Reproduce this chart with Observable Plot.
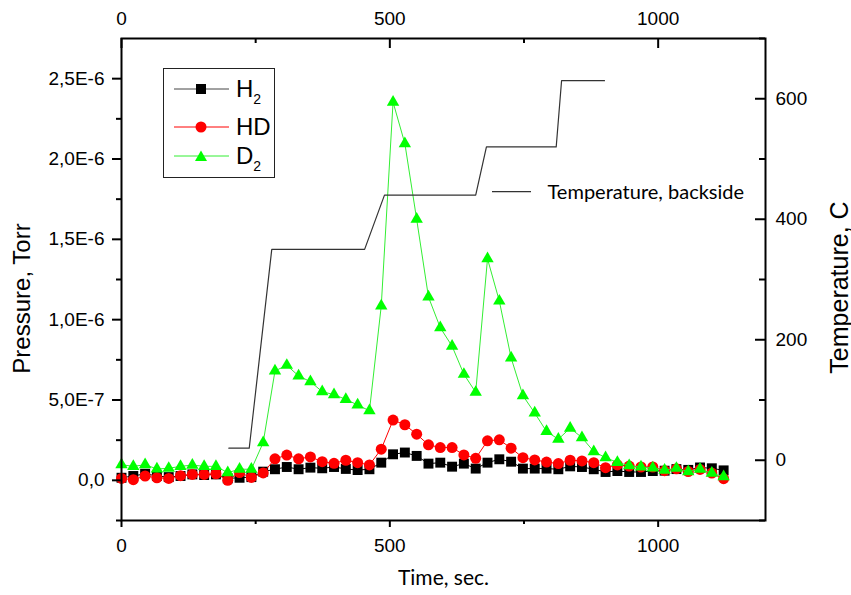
<!DOCTYPE html>
<html><head><meta charset="utf-8">
<script src="https://cdn.jsdelivr.net/npm/d3@7"></script>
<script src="https://cdn.jsdelivr.net/npm/@observablehq/plot@0.6"></script>
<style>
body{margin:0;background:#fff;}
#wrap{position:relative;width:851px;height:595px;overflow:hidden;background:#fff;}
#wrap svg{position:absolute;left:0;top:0;font-family:"Liberation Sans",Arial,sans-serif !important;}
#legend{position:absolute;left:163px;top:68px;width:110px;height:108px;border:1px solid #222;background:#fff;font-family:"Liberation Sans",Arial,sans-serif;color:#000;}
#legend .row{position:absolute;left:0;height:30px;width:110px;}
#legend svg{position:absolute;left:0;top:0;}
#legend .lab{position:absolute;left:72px;top:3px;font-size:24px;line-height:24px;}
#legend sub{font-size:14px;vertical-align:-7px;line-height:0;}
</style></head><body><div id="wrap"></div>
<script>
// ---- data ----
const time = [0,22,44,66,88,110,132,154,176,198,220,242,264,286,308,330,352,374,396,418,440,462,484,506,528,550,572,594,616,638,660,682,704,726,748,770,792,814,836,858,880,902,924,946,968,990,1012,1034,1056,1078,1100,1122];
// pressures in units of 1e-7 Torr
const h2 = [0.16,0.27,0.41,0.27,0.20,0.27,0.37,0.33,0.37,0.12,0.16,0.20,0.54,0.69,0.83,0.69,0.79,0.75,0.83,0.71,0.64,0.69,1.10,1.62,1.73,1.52,1.04,1.10,0.85,1.04,0.73,1.10,1.31,1.16,0.73,0.73,0.73,0.69,0.87,0.83,0.69,0.52,0.58,0.52,0.52,0.58,0.60,0.70,0.65,0.80,0.75,0.62];
const hd = [0.12,0.04,0.27,0.16,0.12,0.29,0.37,0.37,0.41,0.00,0.48,0.18,0.46,1.34,1.57,1.34,1.46,1.16,1.06,1.25,1.10,0.96,1.94,3.75,3.46,2.87,2.21,2.04,2.04,1.58,1.37,2.46,2.52,2.00,1.41,1.27,1.14,1.04,1.25,1.21,1.10,0.79,0.96,0.89,0.83,0.83,0.60,0.72,0.55,0.68,0.45,0.10];
const d2 = [0.97,0.87,0.97,0.71,0.75,0.87,0.95,0.87,0.87,0.48,0.69,0.69,2.35,6.81,7.16,6.50,6.14,5.52,5.33,5.04,4.69,4.33,10.85,23.54,20.96,16.25,11.41,9.50,8.35,6.60,5.48,13.79,11.16,7.62,5.27,4.19,3.04,2.56,3.25,2.66,1.79,1.41,1.12,0.91,0.83,0.77,0.64,0.75,0.54,0.69,0.44,0.23];
const tempTime = [200,238,280,453,490,660,680,810,820,900];
const tempValue = [20,20,350,350,440,440,520,520,630,630];

const xMajor = [0,500,1000];
const xMinor = [250,750];
const pMajor = [0,5e-7,1e-6,1.5e-6,2e-6,2.5e-6];
const pMajorLabels = ["0,0","5,0E-7","1,0E-6","1,5E-6","2,0E-6","2,5E-6"];
const pMinor = [-2.5e-7,2.5e-7,7.5e-7,1.25e-6,1.75e-6,2.25e-6];
const tMajor = [0,200,400,600];
const tMinor = [-100,100,300,500,700];
const xTitle = "Time, sec.";
const pTitle = "Pressure, Torr";
const tTitle = "Temperature, C";
const annoText = "Temperature, backside";
const annoLevel = 446;

// ---- build tables ----
const mk = (arr) => time.map((t,i)=>({t, p: arr[i]*1e-7}));
const H2 = mk(h2), HD = mk(hd), D2 = mk(d2);
const TEMP = tempTime.map((t,i)=>({t, T: tempValue[i]}));
const pLabelMap = new Map(pMajor.map((v,i)=>[v,pMajorLabels[i]]));

const W=851,H=595,mL=121,mR=86,mT=38,mB=75;
const FW = W-mL-mR, FH = H-mT-mB;
const baseStyle = {background:"transparent", fontFamily:"'Liberation Sans', Arial, sans-serif", fontSize:"19px", color:"#000", overflow:"visible"};

const pressurePlot = Plot.plot({
  width:W, height:H, marginLeft:mL, marginRight:mR, marginTop:mT, marginBottom:mB,
  style: baseStyle,
  x:{domain:[0,1200]},
  y:{domain:[-2.5e-7,2.75e-6]},
  marks:[
    Plot.line(H2,{x:"t",y:"p",stroke:"#000",strokeWidth:1}),
    Plot.dot(H2,{x:"t",y:"p",symbol:"square",r:5.6,fill:"#000",stroke:"none"}),
    Plot.line(HD,{x:"t",y:"p",stroke:"#ff0000",strokeWidth:1}),
    Plot.dot(HD,{x:"t",y:"p",symbol:"circle",r:5.5,fill:"#ff0000",stroke:"none"}),
    Plot.line(D2,{x:"t",y:"p",stroke:"#33ee33",strokeWidth:1}),
    Plot.dot(D2,{x:"t",y:"p",symbol:"triangle",r:4.6,fill:"#00ff00",stroke:"none"}),
    Plot.frame({stroke:"#000",strokeWidth:2}),
    Plot.axisY(pMajor,{anchor:"left",tickSize:9,tickPadding:8,strokeWidth:2,tickFormat:d=>pLabelMap.get(d),label:null}),
    Plot.axisY(pMinor,{anchor:"left",tickSize:5,strokeWidth:2,tickFormat:()=>"",label:null}),
    Plot.axisX(xMajor,{anchor:"bottom",tickSize:7,tickPadding:11,strokeWidth:2,tickFormat:d=>String(d),label:null}),
    Plot.axisX(xMinor,{anchor:"bottom",tickSize:4,strokeWidth:2,tickFormat:()=>"",label:null}),
    Plot.axisX(xMajor,{anchor:"top",tickSize:0,tickPadding:14,tickFormat:d=>String(d),label:null}),
    Plot.tickX(xMajor,{x:d=>d,insetBottom:FH-10,strokeWidth:2}),
    Plot.tickX(xMinor,{x:d=>d,insetBottom:FH-5,strokeWidth:2}),
    Plot.text([pTitle],{frameAnchor:"left",dx:-99,dy:19,rotate:-90,textAnchor:"middle",lineAnchor:"middle",fontSize:24,text:d=>d}),
    Plot.text([xTitle],{frameAnchor:"bottom",dy:58,textAnchor:"middle",lineAnchor:"middle",fontFamily:"Lato",fontSize:21,text:d=>d})
  ]
});

const tempPlot = Plot.plot({
  width:W, height:H, marginLeft:mL, marginRight:mR, marginTop:mT, marginBottom:mB,
  style: baseStyle,
  x:{domain:[0,1200], axis:null},
  y:{domain:[-100,700]},
  marks:[
    Plot.line(TEMP,{x:"t",y:"T",stroke:"#333",strokeWidth:1.2}),
    Plot.axisY(tMajor,{anchor:"right",tickSize:0,tickPadding:10,tickFormat:d=>String(d),label:null}),
    Plot.tickY(tMajor,{y:d=>d,insetLeft:FW-10,strokeWidth:2}),
    Plot.tickY(tMinor,{y:d=>d,insetLeft:FW-6,strokeWidth:2}),
    Plot.text([tTitle],{frameAnchor:"right",dx:74,dy:8,rotate:-90,textAnchor:"middle",lineAnchor:"middle",fontSize:25,text:d=>d}),
    Plot.tickY([annoLevel],{y:d=>d,insetLeft:371,insetRight:234,stroke:"#333",strokeWidth:1.2}),
    Plot.text([annoText],{frameAnchor:"top-left",dx:426,dy:154,textAnchor:"start",lineAnchor:"middle",fontFamily:"Lato",fontSize:20,text:d=>d})
  ]
});

const wrap = document.getElementById("wrap");
wrap.appendChild(pressurePlot);
wrap.appendChild(tempPlot);

// ---- legend ----
const legend = document.createElement("div");
legend.id = "legend";
const rows = [
  {name:"H", sub:"2", color:"#000", line:"#444", sym:"square", cy:20},
  {name:"HD", sub:"", color:"#ff0000", line:"#ff0000", sym:"circle", cy:58},
  {name:"D", sub:"2", color:"#00ff00", line:"#33ee33", sym:"triangle", cy:87}
];
rows.forEach(r=>{
  const row = document.createElement("div");
  row.className="row";
  row.style.top = (r.cy-15)+"px";
  let symSvg;
  if(r.sym==="square") symSvg = `<rect x="32" y="10" width="10" height="10" fill="${r.color}"/>`;
  else if(r.sym==="circle") symSvg = `<circle cx="37" cy="15" r="5.5" fill="${r.color}"/>`;
  else symSvg = `<polygon points="37,9.5 43,20 31,20" fill="${r.color}"/>`;
  row.innerHTML = `<svg width="70" height="30"><line x1="10" x2="65" y1="15" y2="15" stroke="${r.line}" stroke-width="1"/>${symSvg}</svg><span class="lab">${r.name}${r.sub?`<sub>${r.sub}</sub>`:""}</span>`;
  legend.appendChild(row);
});
wrap.appendChild(legend);
</script>
</body></html>
